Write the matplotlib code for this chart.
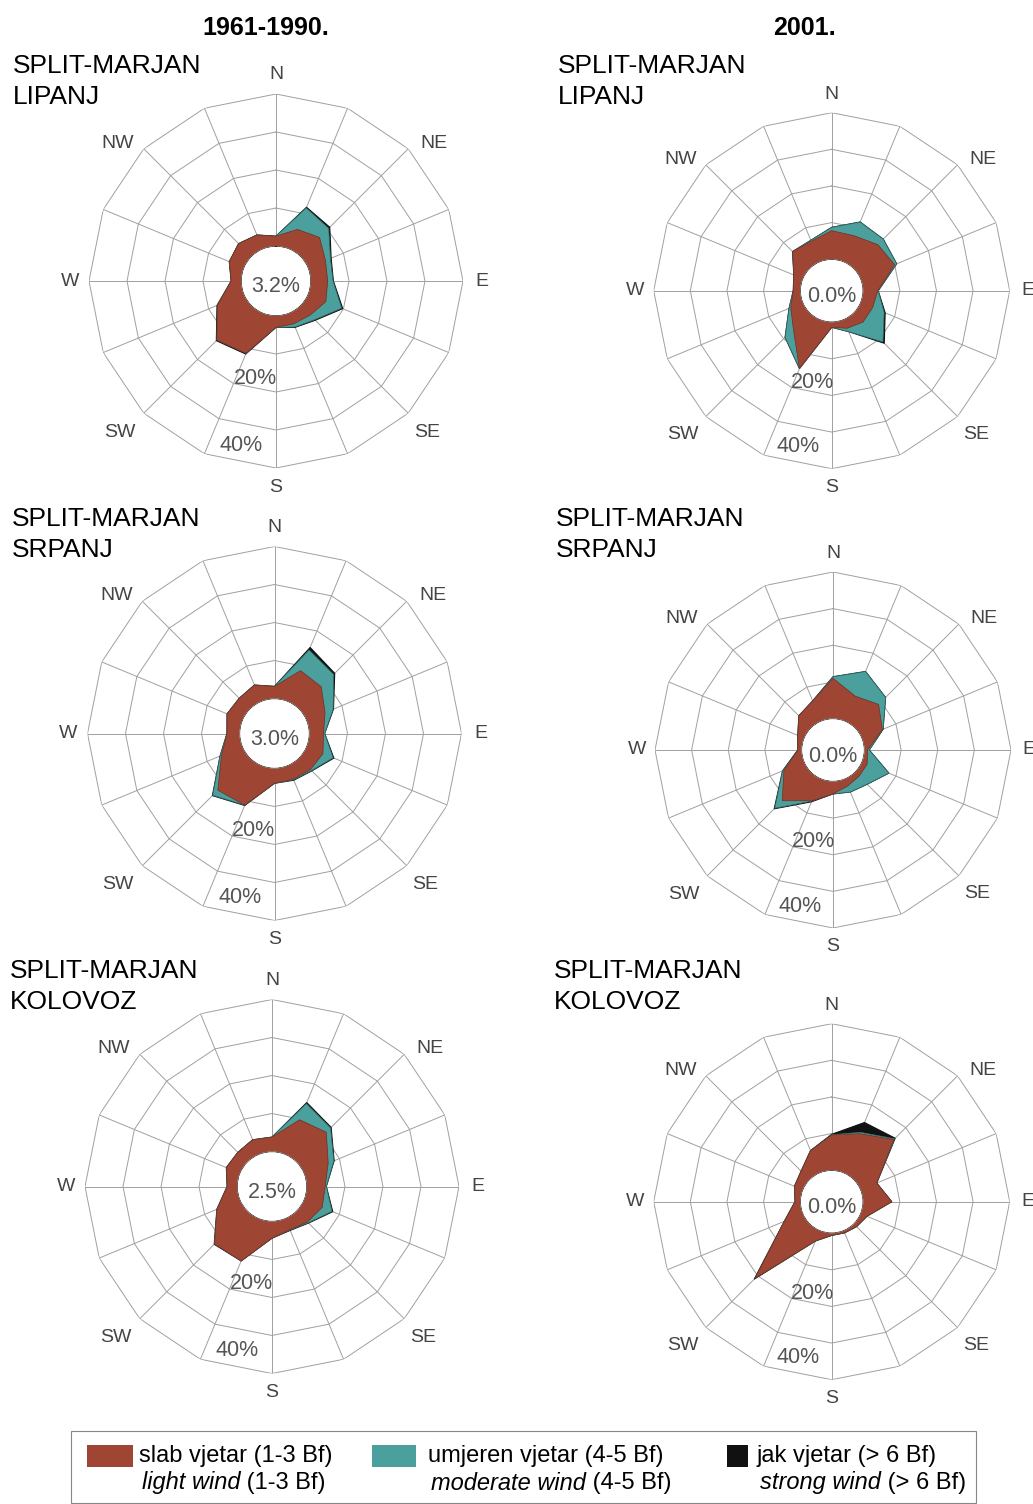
import matplotlib
matplotlib.use('Agg')
import matplotlib.pyplot as plt
from matplotlib.patches import Circle, Rectangle
import numpy as np

plt.rcParams['font.family'] = ['Liberation Sans', 'DejaVu Sans']

W, H = 1033, 1504

# 16 wind directions, clockwise from north
DIRS = ['N', 'NNE', 'NE', 'ENE', 'E', 'ESE', 'SE', 'SSE',
        'S', 'SSW', 'SW', 'WSW', 'W', 'WNW', 'NW', 'NNW']
LABEL_DIRS = ['N', 'NE', 'E', 'SE', 'S', 'SW', 'W', 'NW']

# frequencies in % per class: light (1-3 Bf), moderate (4-5 Bf), strong (>6 Bf)
# 1961-1990, lipanj
TL_LIGHT = [2.6, 5.5, 7.0, 4.9, 4.4, 5.0, 3.5, 3.0, 3.0, 11.4, 12.8, 7.5, 2.6, 4.1, 4.7, 3.9]
TL_MOD = [0.0, 6.1, 3.4, 1.4, 1.4, 4.5, 1.7, 0.9, 0.0, 0.0, 0.0, 0.0, 0.0, 0.0, 0.0, 0.0]
TL_STRONG = [0.0, 0.2, 0.4, 0.2, 0.1, 0.3, 0.2, 0.1, 0.0, 0.2, 0.2, 0.1, 0.0, 0.0, 0.0, 0.0]
# 1961-1990, srpanj
ML_LIGHT = [3.2, 8.7, 8.2, 5.2, 3.7, 4.6, 4.2, 3.8, 3.9, 11.2, 11.9, 5.9, 3.3, 4.3, 3.9, 4.6]
ML_MOD = [0.0, 5.9, 4.6, 2.3, 0.3, 2.9, 0.4, 0.2, 0.0, 0.0, 1.9, 0.4, 0.0, 0.0, 0.0, 0.0]
ML_STRONG = [0.0, 0.7, 0.4, 0.1, 0.0, 0.2, 0.1, 0.1, 0.0, 0.1, 0.1, 0.0, 0.0, 0.0, 0.0, 0.0]
# 1961-1990, kolovoz
BL_LIGHT = [3.8, 9.8, 11.0, 6.8, 4.8, 5.1, 4.0, 3.1, 4.4, 12.0, 12.2, 6.5, 2.6, 3.8, 3.5, 4.1]
BL_MOD = [0.0, 4.6, 1.6, 1.6, 0.3, 2.8, 0.3, 0.1, 0.0, 0.0, 0.0, 0.0, 0.0, 0.0, 0.0, 0.0]
BL_STRONG = [0.0, 0.3, 0.2, 0.1, 0.0, 0.2, 0.1, 0.1, 0.0, 0.0, 0.1, 0.0, 0.0, 0.0, 0.0, 0.0]
# 2001, lipanj
TR_LIGHT = [7.8, 7.6, 9.2, 10.0, 4.0, 3.5, 3.5, 2.5, 1.4, 14.4, 6.2, 3.5, 1.9, 2.6, 6.5, 6.0]
TR_MOD = [0.9, 4.1, 2.1, 0.6, 0.1, 3.4, 7.7, 1.0, 0.0, 0.0, 3.2, 0.5, 0.0, 0.0, 0.0, 0.3]
TR_STRONG = [0.0, 0.0, 0.0, 0.0, 0.0, 0.3, 0.5, 0.0, 0.0, 0.0, 0.0, 0.0, 0.0, 0.0, 0.0, 0.0]
# 2001, srpanj
MR_LIGHT = [11.0, 7.3, 9.0, 6.0, 0.8, 1.5, 1.5, 2.0, 3.4, 6.4, 11.0, 5.9, 1.0, 1.8, 4.6, 5.9]
MR_MOD = [0.4, 7.3, 2.7, 0.2, 0.5, 6.4, 3.1, 1.8, 0.0, 0.1, 2.9, 0.4, 0.0, 0.0, 0.0, 0.0]
MR_STRONG = [0.0, 0.0, 0.0, 0.0, 0.0, 0.0, 0.0, 0.0, 0.0, 0.2, 0.2, 0.0, 0.0, 0.0, 0.0, 0.0]
# 2001, kolovoz
BR_LIGHT = [9.6, 11.5, 15.4, 4.7, 7.8, 1.8, 1.0, 0.6, 0.6, 3.0, 21.0, 5.4, 1.4, 2.4, 3.2, 6.5]
BR_MOD = [0.1, 0.4, 0.3, 0.0, 0.0, 0.0, 0.0, 0.0, 0.0, 0.0, 0.0, 0.0, 0.0, 0.0, 0.0, 0.0]
BR_STRONG = [0.1, 2.9, 0.2, 0.0, 0.0, 0.0, 0.0, 0.0, 0.0, 0.0, 0.3, 0.0, 0.0, 0.0, 0.0, 0.0]

CALM_LEFT = ['3.2%', '3.0%', '2.5%']
CALM_RIGHT = ['0.0%', '0.0%', '0.0%']
MONTHS = ['LIPANJ', 'SRPANJ', 'KOLOVOZ']
STATION = 'SPLIT-MARJAN'
PERIODS = ['1961-1990.', '2001.']
RINGS = [10, 20, 30, 40]

BROWN = '#9e4633'
TEAL = '#4b9f9c'
GRID = '#a0a0a0'

# where the direction names sit: (bearing in degrees, radius in %)
LABEL_POS = {'N': (0, 45.0), 'NE': (49, 46.0), 'E': (90, 45.0), 'SE': (135, 47.0),
             'S': (180, 45.0), 'SW': (226, 48.0), 'W': (270, 45.0), 'NW': (311, 46.0)}

fig = plt.figure(figsize=(W / 100, H / 100), dpi=100)


def fx(x):
    return x / W


def fy(y):
    return 1 - y / H


def draw_rose(cx, cy, R, origin, light, mod, strong, calm):
    ax = fig.add_axes([fx(cx - R), fy(cy + R), 2 * R / W, 2 * R / H],
                      projection='polar')
    ax.set_theta_zero_location('N')
    ax.set_theta_direction(-1)
    ax.set_ylim(0, 40)
    ax.set_rorigin(-origin)
    ax.grid(False)
    ax.set_xticks([])
    ax.set_yticks([])
    ax.spines['polar'].set_visible(False)
    ax.patch.set_alpha(0)

    theta = np.deg2rad(np.arange(len(DIRS)) * 22.5)
    tc = np.append(theta, theta[0])

    # polygonal grid
    for v in RINGS:
        ax.plot(tc, [v] * len(tc), color=GRID, lw=0.7, zorder=1)
    for t in theta:
        ax.plot([t, t], [0, 40], color=GRID, lw=0.7, zorder=1)

    light = np.array(light)
    lm = light + np.array(mod)
    tot = lm + np.array(strong)
    close = lambda a: np.append(a, a[0])
    ax.fill(tc, close(tot), facecolor='#111111', edgecolor='#111111', lw=0.8, zorder=2)
    ax.fill(tc, close(lm), facecolor=TEAL, edgecolor='#2e6e6b', lw=0.5, zorder=3)
    ax.fill(tc, close(light), facecolor=BROWN, edgecolor='#6e2f22', lw=0.5, zorder=4)

    ax.add_patch(Circle((0.5, 0.5), 0.5 * origin / (40 + origin),
                        transform=ax.transAxes, facecolor='white',
                        edgecolor='none', zorder=5))
    ax.text(0.5, 0.5 - 6 / (2 * R), calm, transform=ax.transAxes,
            ha='center', va='center', fontsize=15.5, color='#555555', zorder=6)

    for d in LABEL_DIRS:
        b, r = LABEL_POS[d]
        ax.text(np.deg2rad(b), r, d, ha='center', va='center',
                fontsize=14, color='#444444', clip_on=False)
    for v, r in [('20%', 17.0), ('40%', 35.0)]:
        ax.text(np.deg2rad(192), r, v, ha='center', va='center',
                fontsize=15.5, color='#555555', zorder=6, clip_on=False)
    return ax


left = [(276, 281), (274.5, 733.5), (272, 1186.5)]
right = [(831.7, 290.7), (833, 750), (831.7, 1201.7)]
left_data = [(TL_LIGHT, TL_MOD, TL_STRONG), (ML_LIGHT, ML_MOD, ML_STRONG),
             (BL_LIGHT, BL_MOD, BL_STRONG)]
right_data = [(TR_LIGHT, TR_MOD, TR_STRONG), (MR_LIGHT, MR_MOD, MR_STRONG),
              (BR_LIGHT, BR_MOD, BR_STRONG)]

for k in range(3):
    draw_rose(*left[k], 187, 9.2, *left_data[k], CALM_LEFT[k])
    draw_rose(*right[k], 178, 8.6, *right_data[k], CALM_RIGHT[k])

# titles
fig.text(fx(266), fy(28), PERIODS[0], ha='center', va='center',
         fontsize=18, fontweight='bold')
fig.text(fx(804), fy(28), PERIODS[1], ha='center', va='center',
         fontsize=18, fontweight='bold')

# station / month labels
label_pos_left = [(13, 66), (12, 519), (10, 971)]
label_pos_right = [(558, 66), (556, 519), (554, 971)]
for k in range(3):
    for (x, y) in (label_pos_left[k], label_pos_right[k]):
        fig.text(fx(x), fy(y), STATION, ha='left', va='center', fontsize=19)
        fig.text(fx(x), fy(y + 31), MONTHS[k], ha='left', va='center', fontsize=19)

# legend
fig.add_artist(Rectangle((fx(71), fy(1503)), (976 - 71) / W, (1503 - 1431) / H,
                         transform=fig.transFigure, fill=False,
                         edgecolor='#888888', lw=0.8))
leg_items = [
    (BROWN, 87, 46, 'slab vjetar (1-3 Bf)', 'light wind', ' (1-3 Bf)', 139),
    (TEAL, 372, 44, 'umjeren vjetar (4-5 Bf)', 'moderate wind', ' (4-5 Bf)', 428),
    ('#111111', 727, 21, 'jak vjetar (> 6 Bf)', 'strong wind', ' (> 6 Bf)', 757),
]
renderer = fig.canvas.get_renderer()
for color, px, pw, line1, it, rest, tx in leg_items:
    fig.add_artist(Rectangle((fx(px), fy(1467)), pw / W, 22 / H,
                             transform=fig.transFigure, facecolor=color,
                             edgecolor='none'))
    fig.text(fx(tx), fy(1456), line1, ha='left', va='center', fontsize=17)
    t = fig.text(fx(tx + 3), fy(1483), it, ha='left', va='center',
                 fontsize=17, style='italic')
    bb = t.get_window_extent(renderer=renderer)
    fig.text(bb.x1 / W, fy(1483), rest, ha='left', va='center', fontsize=17)

fig.savefig('out.png', dpi=100)
